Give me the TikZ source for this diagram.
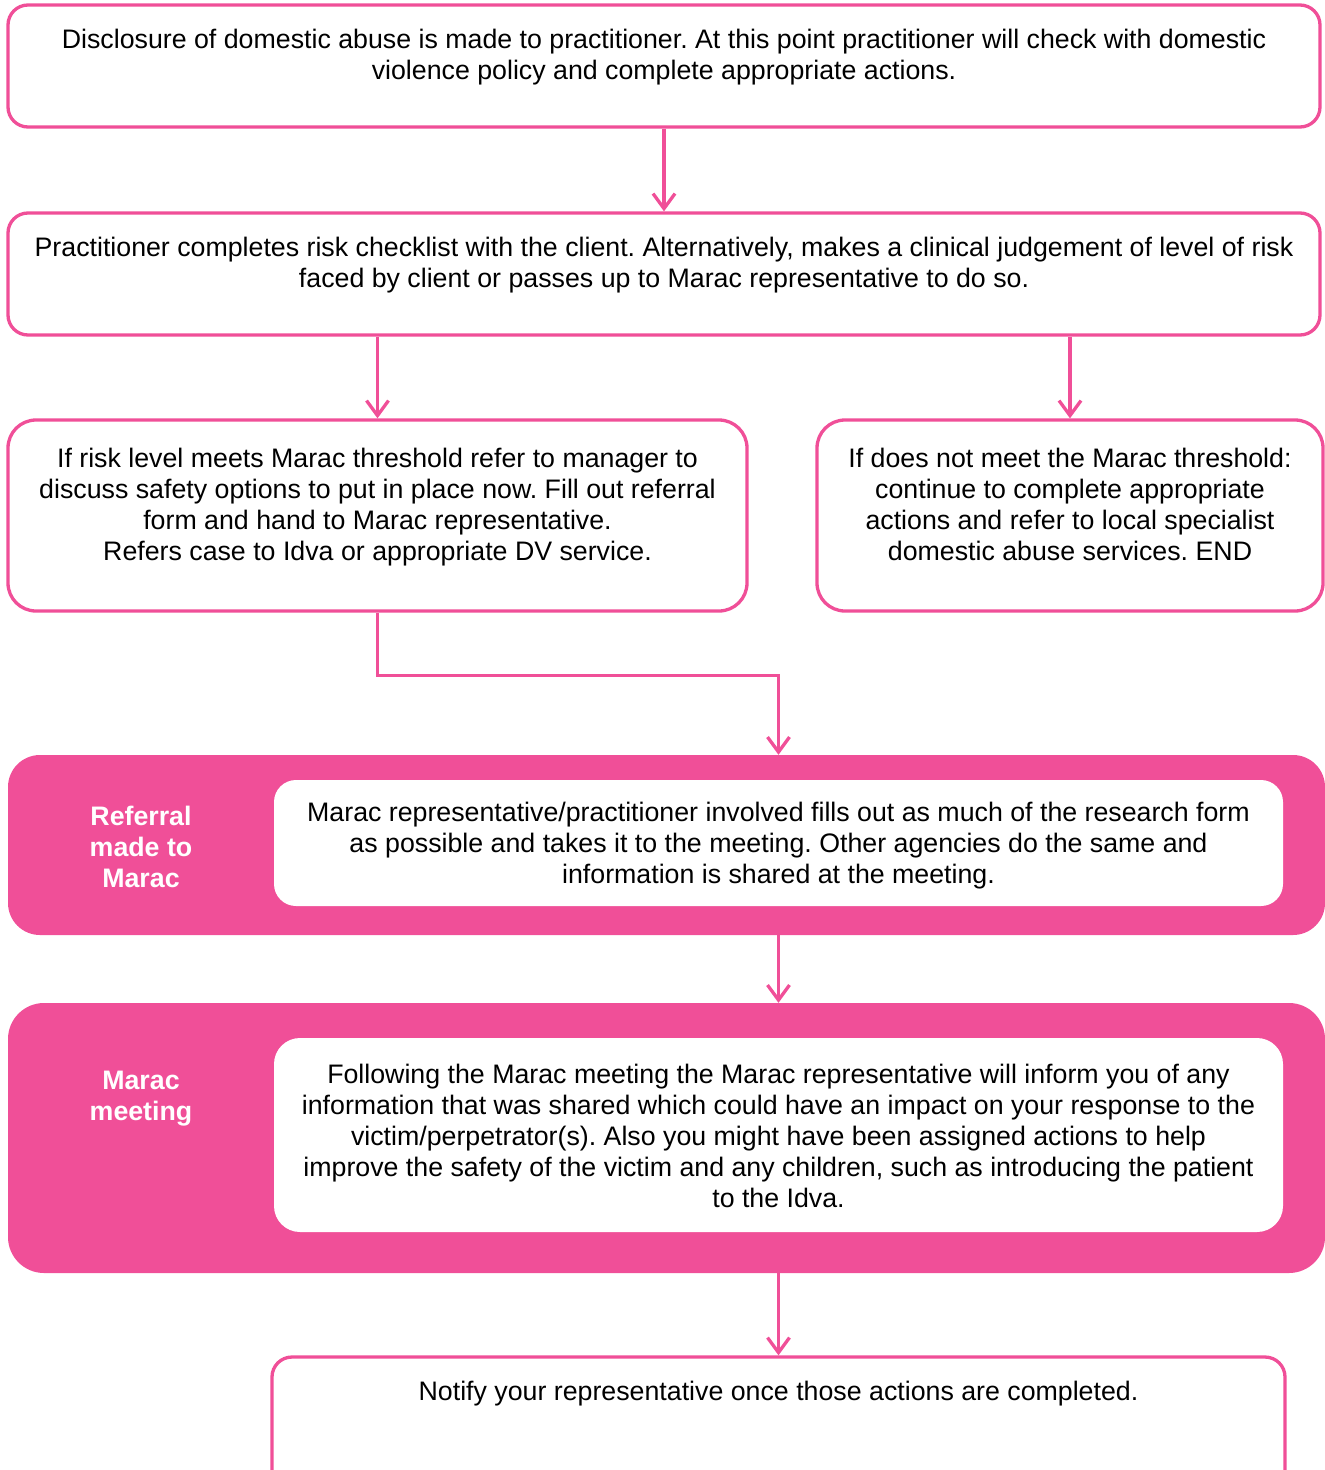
\documentclass[tikz,border=0pt]{standalone}
\usepackage{fontspec}
\setmainfont{Liberation Sans}
\usetikzlibrary{arrows.meta,calc}
\definecolor{mpink}{HTML}{F04F98}
\frenchspacing
\begin{document}
\begin{tikzpicture}[x=1pt,y=-1pt,
 box/.style={draw=mpink, line width=3.3pt, rounded corners=20pt, fill=white, inner sep=0pt},
 band/.style={fill=mpink, rounded corners=32pt, inner sep=0pt},
 inbox/.style={fill=white, rounded corners=22pt, inner sep=0pt},
 txt/.style={font=\fontsize{26.75}{31}\selectfont, align=center, inner sep=0pt, anchor=north},
 lbl/.style={font=\fontsize{26.75}{31}\selectfont\bfseries, text=white, align=center, inner sep=0pt},
 arr/.style={draw=mpink, line width=3.3pt, -{Straight Barb[length=15pt,width=22pt]}}]
\useasboundingbox (0,0) rectangle (1325,1470);
\clip (0,0) rectangle (1325,1470);

% boxes
\node[box, minimum width=1312pt, minimum height=122pt] (b1) at (664,66) {};
\node[box, minimum width=1312pt, minimum height=122pt] (b2) at (664,274) {};
\node[box, rounded corners=28pt, minimum width=739pt, minimum height=191pt] (b3) at (377.5,515.5) {};
\node[box, rounded corners=28pt, minimum width=506pt, minimum height=191pt] (b4) at (1070,515.5) {};
\node[band, minimum width=1317pt, minimum height=180pt] (band1) at (666.5,845) {};
\node[inbox, minimum width=1009pt, minimum height=126pt] (in1) at (778.5,843) {};
\node[band, rounded corners=36pt, minimum width=1317pt, minimum height=270pt] (band2) at (666.5,1138) {};
\node[inbox, rounded corners=26pt, minimum width=1009pt, minimum height=194pt] (in2) at (778.5,1135) {};
\node[box, minimum width=1013pt, minimum height=140pt] (b5) at (778.5,1427) {};

% texts
\node[txt] (t1) at (664,28.5) {Disclosure of domestic abuse is made to practitioner. At this point practitioner will check with domestic\\violence policy and complete appropriate actions.};
\node[txt] (t2) at (664,236.5) {Practitioner completes risk checklist with the client. Alternatively, makes a clinical judgement of level of risk\\faced by client or passes up to Marac representative to do so.};
\node[txt] (t3) at (377.5,447.5) {If risk level meets Marac threshold refer to manager to\\discuss safety options to put in place now. Fill out referral\\form and hand to Marac representative.\\Refers case to Idva or appropriate DV service.};
\node[txt] (t4) at (1070,447.5) {If does not meet the Marac threshold:\\continue to complete appropriate\\actions and refer to local specialist\\domestic abuse services. END};
\node[txt] (t5) at (778.5,801.5) {Marac representative/practitioner involved fills out as much of the research form\\as possible and takes it to the meeting. Other agencies do the same and\\information is shared at the meeting.};
\node[lbl] (l1) at (141,847) {Referral\\made to\\Marac};
\node[txt] (t6) at (778.5,1063.5) {Following the Marac meeting the Marac representative will inform you of any\\information that was shared which could have an impact on your response to the\\victim/perpetrator(s). Also you might have been assigned actions to help\\improve the safety of the victim and any children, such as introducing the patient\\to the Idva.};
\node[lbl] (l2) at (141,1098.5) {Marac\\meeting};
\node[txt] (t7) at (778.5,1380.5) {Notify your representative once those actions are completed.};

% connectors
\draw[arr] (b1.south) -- (b2.north);
\draw[arr] (b2.south -| b3.north) -- (b3.north);
\draw[arr] (b2.south -| b4.north) -- (b4.north);
\draw[arr] (b3.south) -- ++(0,63) -| (in1.north |- band1.north);
\draw[arr] (in1.south |- band1.south) -- (in2.north |- band2.north);
\draw[arr] (in2.south |- band2.south) -- (b5.north);
\end{tikzpicture}
\end{document}
